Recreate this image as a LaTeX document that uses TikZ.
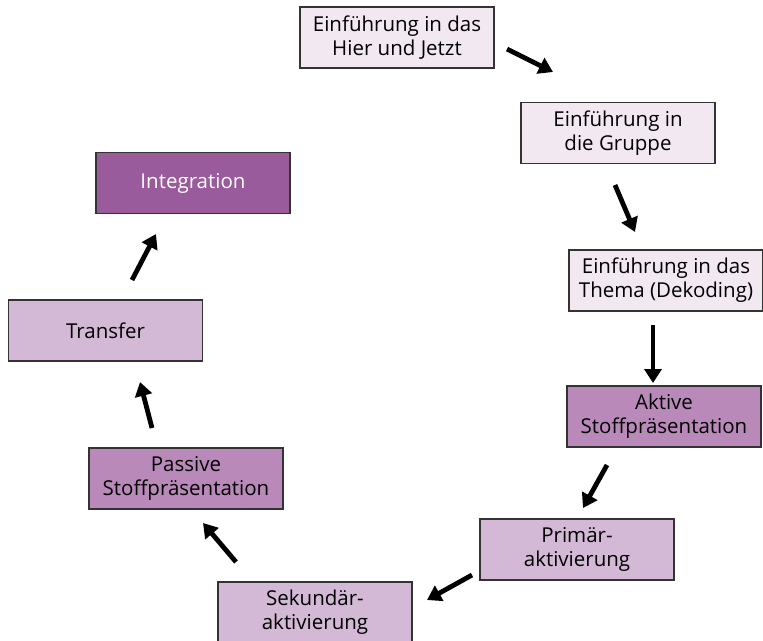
\documentclass[tikz,border=0pt]{standalone}
\usepackage{fontspec}
\setmainfont{Open Sans}
\usetikzlibrary{arrows.meta}
\definecolor{cLight}{HTML}{F2E8F2}
\definecolor{cMid}{HTML}{D4B9D6}
\definecolor{cAct}{HTML}{B98AB9}
\definecolor{cInt}{HTML}{9A5B9C}
\definecolor{cBorder}{HTML}{333333}
\tikzset{
  stepbox/.style={draw=cBorder, line width=1.4pt, minimum width=194pt, minimum height=61pt,
    inner sep=0pt, align=center, font=\fontsize{20.5}{24}\selectfont, text=black},
  flow/.style={line width=4.8pt, -{Triangle[width=17pt,length=14pt]}, black}
}
\begin{document}
\begin{tikzpicture}[x=1pt,y=-1pt]
\useasboundingbox[fill=white] (0,0) rectangle (763,640);
\node[stepbox, fill=cLight] (b1) at (397,37.5) {Einführung in das\\Hier und Jetzt};
\node[stepbox, fill=cLight] (b2) at (618,133) {Einführung in\\die Gruppe};
\node[stepbox, fill=cLight] (b3) at (666,280.5) {Einführung in das\\Thema (Dekoding)};
\node[stepbox, fill=cAct] (b4) at (664,416.5) {Aktive\\Stoffpräsentation};
\node[stepbox, fill=cMid] (b5) at (577,549.5) {Primär-\\aktivierung};
\node[stepbox, fill=cMid] (b6) at (315,612.5) {Sekundär-\\aktivierung};
\node[stepbox, fill=cAct] (b7) at (186,478.5) {Passive\\Stoffpräsentation};
\node[stepbox, fill=cMid] (b8) at (105.5,330.5) {Transfer};
\node[stepbox, fill=cInt, text=white] (b9) at (193,183) {Integration};
\coordinate (a1s) at (507,49);  \coordinate (a1e) at (553,72);
\coordinate (a2s) at (615,185); \coordinate (a2e) at (635,232);
\coordinate (a3s) at (653,325); \coordinate (a3e) at (653,383);
\coordinate (a4s) at (607,465); \coordinate (a4e) at (583,508);
\coordinate (a5s) at (472,575); \coordinate (a5e) at (427,600);
\coordinate (a6s) at (236,562); \coordinate (a6e) at (203,523);
\coordinate (a7s) at (152,428); \coordinate (a7e) at (140,382);
\coordinate (a8s) at (132,280); \coordinate (a8e) at (156,234);
\draw[flow] (a1s) -- (a1e);
\draw[flow] (a2s) -- (a2e);
\draw[flow] (a3s) -- (a3e);
\draw[flow] (a4s) -- (a4e);
\draw[flow] (a5s) -- (a5e);
\draw[flow] (a6s) -- (a6e);
\draw[flow] (a7s) -- (a7e);
\draw[flow] (a8s) -- (a8e);
\end{tikzpicture}
\end{document}
